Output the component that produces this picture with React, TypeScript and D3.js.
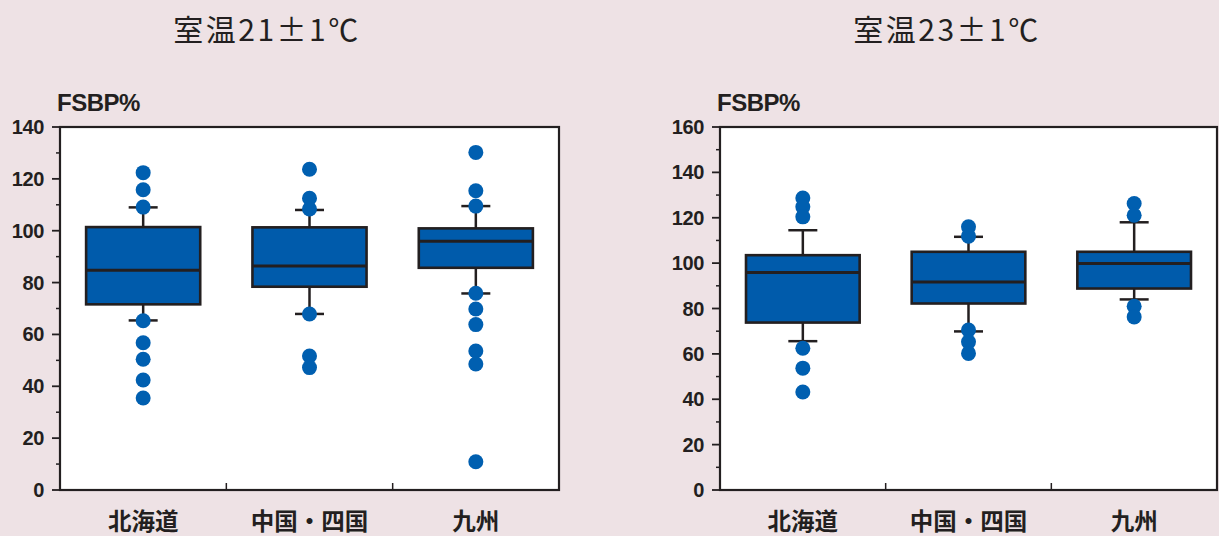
import React from "react";
import * as d3 from "d3";

// Region categories shared by both panels
const categories = ["北海道", "中国・四国", "九州"];

// Panel titles
const panelTitles = ["室温21±1℃", "室温23±1℃"];
const yLabel = "FSBP%";

// Y-axis maxima per panel
const yMaxes = [140, 160];

// Box statistics per panel: [low whisker, Q1, median, Q3, high whisker]
const stats21 = [
  [65.4, 71.6, 84.8, 101.4, 109],
  [67.9, 78.4, 86.4, 101.3, 108],
  [75.8, 85.7, 95.9, 100.9, 109.5],
];
const stats23 = [
  [65.6, 73.8, 95.9, 103.5, 114.5],
  [69.9, 82.2, 91.7, 105, 111.6],
  [84, 88.8, 99.8, 105, 118],
];

// Individual points outside / at the whiskers
const points21 = [
  [122.4, 115.8, 109.1, 65.3, 56.8, 50.4, 42.4, 35.5],
  [123.7, 112.5, 108.4, 67.9, 51.7, 47.2],
  [130.2, 115.4, 109.5, 75.9, 69.8, 63.8, 53.6, 48.6, 10.9],
];
const points23 = [
  [128.7, 124.8, 120.4, 62.5, 53.7, 43.2],
  [116, 111.9, 70.5, 65.3, 60.2],
  [126.3, 121.1, 81, 76.3],
];

const W = 1219;
const H = 536;
const BG = "#eee2e5";
const INK = "#231f20";
const BLUE = "#005bab";
const DOT = "#005fb0";

const panels = [
  { title: panelTitles[0], yMax: yMaxes[0], stats: stats21, points: points21, x0: 60, x1: 559, titleX: 267 },
  { title: panelTitles[1], yMax: yMaxes[1], stats: stats23, points: points23, x0: 720, x1: 1217, titleX: 947 },
];

const TOP = 127;
const BOTTOM = 490;

function Panel({ p }: { p: (typeof panels)[number] }) {
  const y = d3.scaleLinear().domain([0, p.yMax]).range([BOTTOM, TOP]);
  const x = d3.scaleBand<string>().domain(categories).range([p.x0, p.x1]).padding(0);
  const bw = x.bandwidth();
  const boxW = bw * 0.686;
  const capW = 29;
  const majors = d3.range(0, p.yMax + 1, 20);
  const minors = d3.range(10, p.yMax, 20);
  const dividers = categories.slice(1).map((c) => x(c)!);

  return (
    <g>
      <text
        x={p.titleX}
        y={28}
        textAnchor="middle"
        dominantBaseline="central"
        fontFamily="'Noto Sans CJK JP', 'Noto Sans', sans-serif"
        fontWeight={400}
        fontSize={30}
        letterSpacing={2.5}
        fill={INK}
      >
        {p.title}
      </text>
      <text
        x={p.x0 - 3}
        y={111}
        fontFamily="'Liberation Sans', Arial, sans-serif"
        fontWeight={700}
        fontSize={24}
        letterSpacing={-0.5}
        fill={INK}
      >
        {yLabel}
      </text>
      <rect x={p.x0} y={TOP} width={p.x1 - p.x0} height={BOTTOM - TOP} fill="#fff" />

      {/* y ticks */}
      {majors.map((v) => (
        <g key={"M" + v}>
          <line x1={p.x0 - 8} x2={p.x0} y1={y(v)} y2={y(v)} stroke={INK} strokeWidth={1.8} />
          <text
            x={p.x0 - 16}
            y={y(v)}
            textAnchor="end"
            dominantBaseline="central"
            fontFamily="'Liberation Sans', Arial, sans-serif"
            fontWeight={700}
            fontSize={20}
            letterSpacing={-0.4}
            fill={INK}
          >
            {v}
          </text>
        </g>
      ))}
      {minors.map((v) => (
        <line key={"m" + v} x1={p.x0 - 4} x2={p.x0} y1={y(v)} y2={y(v)} stroke={INK} strokeWidth={1.5} />
      ))}

      {/* category dividers on the x axis */}
      {dividers.map((d, i) => (
        <line key={"d" + i} x1={d} x2={d} y1={BOTTOM} y2={BOTTOM - 7} stroke={INK} strokeWidth={1.5} />
      ))}

      {/* boxes */}
      {categories.map((c, i) => {
        const [lo, q1, med, q3, hi] = p.stats[i];
        const cx = x(c)! + bw / 2;
        return (
          <g key={c}>
            <line x1={cx} x2={cx} y1={y(q3)} y2={y(hi)} stroke={INK} strokeWidth={2.5} />
            <line x1={cx} x2={cx} y1={y(q1)} y2={y(lo)} stroke={INK} strokeWidth={2.5} />
            <line x1={cx - capW / 2} x2={cx + capW / 2} y1={y(hi)} y2={y(hi)} stroke={INK} strokeWidth={2.5} />
            <line x1={cx - capW / 2} x2={cx + capW / 2} y1={y(lo)} y2={y(lo)} stroke={INK} strokeWidth={2.5} />
            <rect
              x={cx - boxW / 2}
              y={y(q3)}
              width={boxW}
              height={y(q1) - y(q3)}
              fill={BLUE}
              stroke={INK}
              strokeWidth={2.6}
            />
            <line x1={cx - boxW / 2} x2={cx + boxW / 2} y1={y(med)} y2={y(med)} stroke={INK} strokeWidth={3} />
            {p.points[i].map((v, k) => (
              <circle key={k} cx={cx} cy={y(v)} r={7.5} fill={DOT} />
            ))}
            <text
              x={cx}
              y={530}
              textAnchor="middle"
              fontFamily="'Noto Sans CJK JP', sans-serif"
              fontWeight={700}
              fontSize={23.5}
              fill={INK}
            >
              {c}
            </text>
          </g>
        );
      })}

      {/* frame */}
      <rect
        x={p.x0}
        y={TOP}
        width={p.x1 - p.x0}
        height={BOTTOM - TOP}
        fill="none"
        stroke={INK}
        strokeWidth={2.2}
      />
    </g>
  );
}

export default function App() {
  return (
    <svg
      width={W}
      height={H}
      viewBox={`0 0 ${W} ${H}`}
      style={{ position: "absolute", left: 0, top: 0, display: "block" }}
    >
      <rect x={0} y={0} width={W} height={H} fill={BG} />
      {panels.map((p, i) => (
        <Panel key={i} p={p} />
      ))}
    </svg>
  );
}
